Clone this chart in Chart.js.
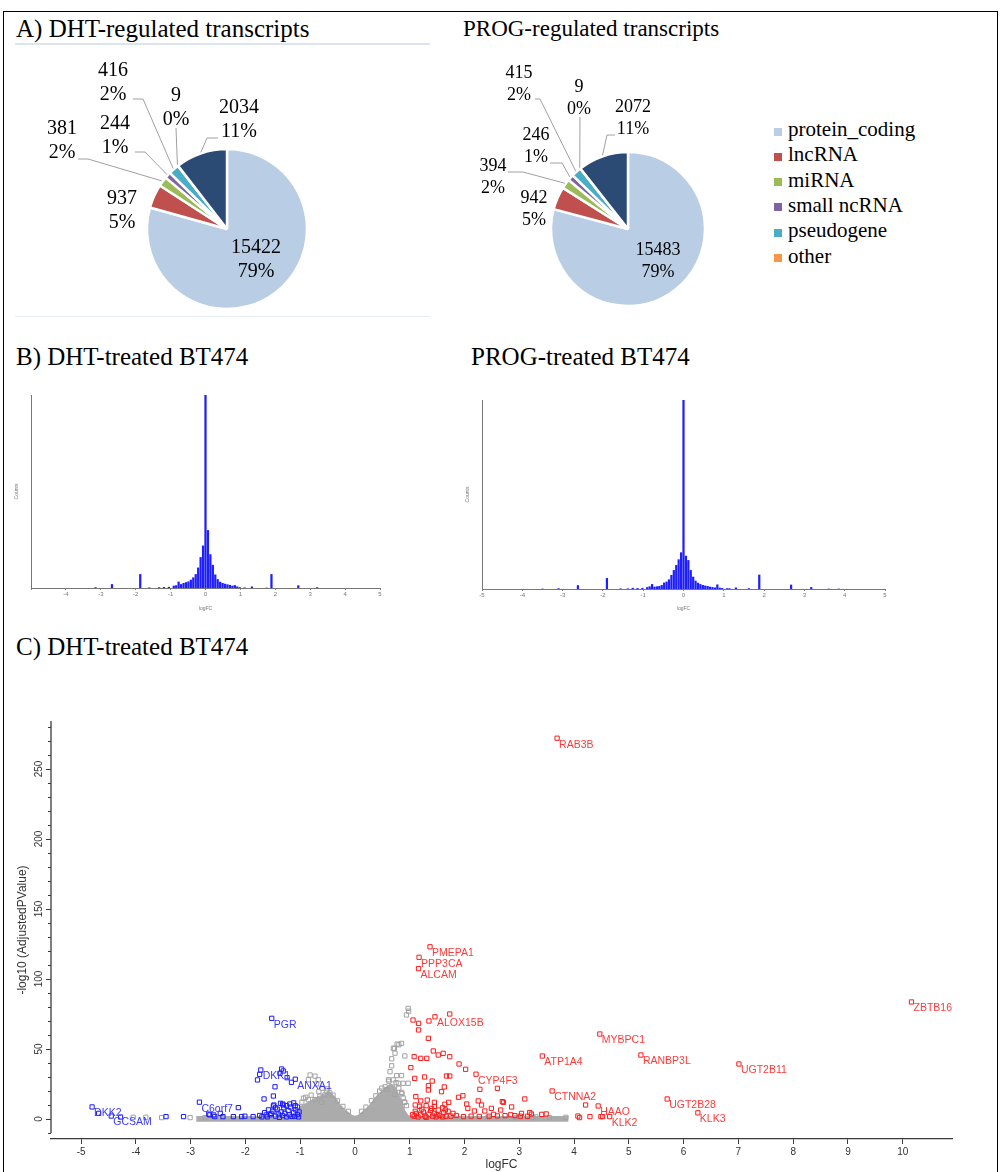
<!DOCTYPE html>
<html>
<head>
<meta charset="utf-8">
<script src="https://cdn.jsdelivr.net/npm/chart.js@4.4.1/dist/chart.umd.min.js"></script>
<style>
  body { margin: 0; background: #fff; }
  #page { position: relative; width: 1001px; height: 1172px; overflow: hidden; font-family: "Liberation Serif", "Times New Roman", serif; color: #000; }
  .frame { position: absolute; left: 3px; top: 11px; width: 995px; height: 1200px; border: 1px solid #000; box-sizing: border-box; }
  .ttl { position: absolute; font-size: 25px; line-height: 25px; white-space: nowrap; }
  .rule { position: absolute; left: 15px; width: 415px; }
  canvas { position: absolute; }
  .lsq { position: absolute; left: 774px; width: 8px; height: 8px; }
  .ltx { position: absolute; left: 788px; font-size: 21px; line-height: 21px; white-space: nowrap; }
</style>
</head>
<body>
<div id="page">
  <div class="frame"></div>
  <div class="ttl" style="left:16px;top:16px">A) DHT-regulated transcripts</div>
  <div class="rule" style="top:43px;height:2px;background:#dbe5f1"></div>
  <div class="ttl" style="left:463px;top:17px;font-size:23px;line-height:23px">PROG-regulated transcripts</div>
  <div class="rule" style="top:316px;height:1px;background:#e6edf5"></div>
  <canvas id="pieDht" width="420" height="268" style="left:20px;top:50px"></canvas>
  <canvas id="pieProg" width="330" height="268" style="left:440px;top:50px"></canvas>
  <div id="legend"></div>
  <div class="ttl" style="left:16px;top:344px">B) DHT-treated BT474</div>
  <div class="ttl" style="left:471px;top:344px">PROG-treated BT474</div>
  <canvas id="histDht" width="400" height="232" style="left:0px;top:380px"></canvas>
  <canvas id="histProg" width="460" height="227" style="left:440px;top:385px"></canvas>
  <div class="ttl" style="left:16px;top:634px">C) DHT-treated BT474</div>
  <canvas id="volcano" width="1000" height="472" style="left:0px;top:700px"></canvas>
</div>
<script>
// ---- A) transcript biotypes ----
const biotypes = ['protein_coding', 'lncRNA', 'miRNA', 'small ncRNA', 'pseudogene', 'other', ''];
const biotypeColors = ['#b9cde5', '#c0504d', '#9bbb59', '#8064a2', '#4bacc6', '#f79646', '#2b4b74'];
const dhtCounts = [15422, 937, 381, 244, 416, 9, 2034];
const dhtPct = ['79%', '5%', '2%', '1%', '2%', '0%', '11%'];
const progCounts = [15483, 942, 394, 246, 415, 9, 2072];
const progPct = ['79%', '5%', '2%', '1%', '2%', '0%', '11%'];

// ---- B) logFC histograms ----
const dhtBins = [-3.15, -2.68, -1.87, -1.61, -1.33, -1.19, -1.05,
  -0.91, -0.84, -0.77, -0.70, -0.63, -0.56, -0.49, -0.42, -0.35, -0.28, -0.21, -0.14, -0.07,
  0,
  0.07, 0.14, 0.21, 0.28, 0.35, 0.42, 0.49, 0.56, 0.63, 0.70, 0.77, 0.84, 0.91, 0.98,
  1.12, 1.33, 1.75, 1.89, 2.66, 3.2];
const dhtHist = [4, 20, 72, 3, 4, 5, 6,
  12, 14, 33, 20, 26, 30, 34, 43, 55, 72, 106, 160, 220,
  1000,
  300, 175, 120, 70, 46, 32, 26, 22, 19, 16, 12, 15, 8, 4,
  3, 8, 2, 72, 14, 4];
const progBins = [-3.5, -3.1, -2.62, -1.9, -1.56, -1.38, -1.26, -1.14, -1.02,
  -0.9, -0.84, -0.78, -0.72, -0.66, -0.6, -0.54, -0.48, -0.42, -0.36, -0.3, -0.24, -0.18, -0.12, -0.06,
  0,
  0.06, 0.12, 0.18, 0.24, 0.3, 0.36, 0.42, 0.48, 0.54, 0.6, 0.66, 0.72, 0.78, 0.84, 0.9, 0.96,
  1.08, 1.14, 1.3, 1.62, 1.88, 2.67, 3.17, 3.6, 3.85];
const progHist = [2, 4, 20, 58, 3, 3, 6, 5, 6,
  10, 14, 26, 12, 14, 16, 21, 34, 39, 51, 74, 100, 127, 157, 194,
  1000,
  176, 153, 100, 65, 44, 33, 26, 21, 18, 16, 12, 10, 8, 24, 7, 5,
  4, 4, 8, 4, 76, 23, 10, 2, 2];

// ---- C) volcano plot ----
const upGenes = ['RAB3B', 'PMEPA1', 'PPP3CA', 'ALCAM', 'ZBTB16', 'ALOX15B', 'MYBPC1', 'RANBP3L',
  'ATP1A4', 'UGT2B11', 'CYP4F3', 'CTNNA2', 'UGT2B28', 'HAAO', 'KLK3', 'KLK2'];
const upFC = [3.69, 1.37, 1.17, 1.16, 10.16, 1.46, 4.47, 5.22, 3.42, 7.01, 2.21, 3.6, 5.7, 4.44, 6.26, 4.65];
const upP = [272, 123, 115.5, 107.4, 83.6, 73, 60.7, 45.7, 45, 39.3, 32, 20, 14.3, 9.3, 4.4, 1.7];
const downGenes = ['PGR', 'DKK1', 'ANXA1', 'C6orf7', 'DKK2', 'GCSAM'];
const downFC = [-1.52, -1.72, -1.09, -2.84, -4.8, -4.45];
const downP = [71.9, 35, 28.4, 12, 8.6, 2.1];

const upOther = [[1.73,75],[1.35,70],[1.06,70.7],[1.16,68.3],[1.16,63.6],[1.34,57.6],[1.43,48.6],[1.52,45.7],
  [1.61,46.9],[1.73,44.5],[1.08,44.5],[1.2,43.3],[1.31,43.3],[1.9,39.3],[2.02,35.5],[1.02,36.7],[1.09,29],
  [1.27,30],[1.67,30.7],[1.73,30.7],[1.41,27.1],[1.34,23.8],[1.34,20.7],[1.63,22.9],[1.58,19.5],[2.28,21.2],
  [1.97,16.6],[1.89,15.5],[1.11,16],[1.2,12.9],[1.32,13.5],[1.45,11.9],[1.64,10.5],[1.71,11.9],[2.04,10.7],
  [2.25,12.9],[2.31,10],[2.69,12.4],[3.1,14.3],[2.86,8.6],[2.49,7.6],[2.06,7.6],[2.18,5.7],[2.37,5.7],
  [2.66,6.4],[3.04,4],[3.19,4.6],[3.41,3.3],[3.49,3.6],[2.53,3.3],[2.74,2.4],[2.92,2.4],[1.98,1.7],[1.79,4],
  [1.52,6.4],[1.4,7.6],[1.1,10],[1.05,3],[2.6,21.9],[2.71,11.9],[4.07,2.1],[4.1,1],[4.29,1.7],[4.21,10],
  [4.49,1.7],[4.52,1.7],[1.08,2],[1.12,4],[1.15,1.5],[1.2,3],[1.25,5],[1.28,2],[1.3,1.2],[1.35,3.5],[1.38,6],
  [1.42,2],[1.45,4],[1.48,1.5],[1.5,3],[1.55,2.5],[1.6,1.5],[1.62,4.5],[1.66,2],[1.7,5.5],[1.75,2],[1.85,2.5],
  [1.22,7],[1.18,9],[1.6,8],[1.3,9.5],[1.1,5.5],[1.45,9],[1.65,6.5],[2.12,2],[2.27,1.8],[2.45,2],[2.6,2.2],
  [2.84,3],[3.02,2],[3.15,1.9],[3.22,3.5]];
const downOther = [[-1.74,31.9],[-1.78,27.9],[-1.34,35.7],[-1.31,34.3],[-1.37,32.6],[-1.24,29.5],[-1.16,26.2],
  [-1.46,23],[-1.49,16.4],[-1.66,14.3],[-2.13,8.1],[-1.48,10],[-1.31,10],[-1.19,10.7],[-1.09,9.5],[-3.13,1.7],
  [-2.65,2.9],[-2.56,1.7],[-2.41,1.7],[-2.46,4],[-2.22,1.7],[-2.07,1.7],[-2.01,2],[-1.86,1.7],[-1.74,2.5],
  [-1.62,2.9],[-1.53,4],[-3.45,1.7],[-4.28,1.4],[-4.68,4],[-2.58,2.9],[-2.67,3.5],[-1.49,9.3],[-1.32,10.7],
  [-1.6,1.5],[-1.55,3],[-1.5,5.5],[-1.45,2],[-1.42,7],[-1.4,3.5],[-1.38,1.2],[-1.35,5],[-1.32,2.5],[-1.3,8],
  [-1.28,4],[-1.25,1.5],[-1.22,6],[-1.2,3],[-1.18,8.5],[-1.15,1.8],[-1.12,4.5],[-1.1,2],[-1.08,6.5],[-1.05,3.2],
  [-1.03,1.5],[-1.02,5],[-1.45,8],[-1.25,9.5],[-1.65,4.5],[-1.7,1.5],[-1.58,6.5],[-1.12,11.5],[-1.05,8.5],[-1.36,11.2]];
const grayPts = [[0.97,79],[0.98,77],[0.94,74.3],[0.85,54],[0.8,53],[0.72,50.5],[0.73,47],[0.67,43],[0.67,38],
  [0.91,45],[0.64,33.8],[0.76,31],[0.85,31],[0.61,28],[0.79,25.5],[0.88,25.5],[0.97,25.5],[0.49,22],[0.58,21],
  [0.73,17.6],[0.85,19],[0.88,15],[0.91,12],[0.94,9.5],[0.7,50.5],[0.77,53.5],
  [0.3,13],[0.38,16.5],[0.45,20],[0.55,23],[0.62,27],[0.7,28],[0.75,26],[0.8,22],[0.86,18],[0.9,12],[0.2,8.5],
  [-0.82,31.4],[-0.73,30.6],[-0.67,28],[-0.85,28],[-0.94,14.8],[-0.85,13.8],[-0.73,13.8],[-0.64,16.4],
  [-0.55,17.1],[-0.46,18.6],[-0.61,11.9],[-0.7,25],[-0.6,22],[-0.52,20],
  [-0.97,12],[-0.9,15.5],[-0.8,17],[-0.66,19.5],[-0.5,21.5],[-0.4,17],[-0.32,13],[-0.22,9],[-0.12,5.5],[0.12,5.5],
  [-4.05,1.2],[-3.82,1.2],[-3.53,1],[-3.01,1],[-2.74,1],[-2.42,1],[2.43,1.2],[2.95,1],[3.25,1],[3.55,1],[3.85,1.2],[3.3,1.5]];
// upper edge of the dense grey cloud
const grayEnvX = [-2.9, -1.3, -1.02, -1.0, -0.94, -0.85, -0.7, -0.6, -0.46, -0.35, -0.27, -0.15, -0.05, 0,
  0.05, 0.15, 0.27, 0.4, 0.52, 0.64, 0.72, 0.82, 0.91, 0.97, 1.0, 1.05, 3.9];
const grayEnvY = [1.7, 1.7, 2.5, 9, 10, 12, 15.5, 17, 19.5, 15, 10, 5.5, 2.5, 2,
  2.5, 5.5, 10, 16.7, 21, 25, 24, 15.5, 6, 2.5, 2, 1.7, 1.7];
const yTickVals = [0, 50, 100, 150, 200, 250];

// label placement around the pies: [dx, dy, leader points...] relative to the pie centre
const dhtLabelPos = [[29, 31], [-105, -18.5], [-165, -88, -149, -70, -139, -70], [-112, -93.5, -92, -77, -82, -77],
  [-114, -146, -94, -130, -84, -130], [-51, -121.5, -51, -101], [12, -109.5, -9, -91, -20, -91]];
const progLabelPos = [[30, 32.5], [-94, -19.5], [-135, -51.5, -120, -57, -105, -57], [-92, -82.5, -78, -66, -66, -66],
  [-109, -144.5, -93, -130, -88, -130], [-49, -130.5, -48, -112], [5, -110.5, -13, -94, -21, -94]];

Chart.defaults.font.family = '"Liberation Sans", Arial, sans-serif';

function makePieLabels(pos, pct, font, gap) {
  return {
    id: 'pieLabels',
    afterDatasetsDraw(chart) {
      const ctx = chart.ctx;
      const arcs = chart.getDatasetMeta(0).data;
      const values = chart.data.datasets[0].data;
      ctx.save();
      ctx.font = font;
      ctx.fillStyle = '#000';
      ctx.textAlign = 'center';
      ctx.textBaseline = 'middle';
      ctx.strokeStyle = '#a0a0a0';
      ctx.lineWidth = 1;
      arcs.forEach((arc, i) => {
        const p = pos[i];
        const cx = arc.x, cy = arc.y;
        ctx.fillText(String(values[i]), cx + p[0], cy + p[1] - gap / 2);
        ctx.fillText(pct[i], cx + p[0], cy + p[1] + gap / 2);
        if (p.length > 2) {
          const mid = (arc.startAngle + arc.endAngle) / 2;
          const r = arc.outerRadius + 1;
          ctx.beginPath();
          ctx.moveTo(cx + p[2], cy + p[3]);
          for (let k = 4; k < p.length; k += 2) ctx.lineTo(cx + p[k], cy + p[k + 1]);
          ctx.lineTo(cx + Math.cos(mid) * r, cy + Math.sin(mid) * r);
          ctx.stroke();
        }
      });
      ctx.restore();
    }
  };
}

function pieChart(id, counts, pct, pos, radius, pad, font, gap) {
  return new Chart(document.getElementById(id), {
    type: 'pie',
    data: {
      labels: biotypes,
      datasets: [{ data: counts, backgroundColor: biotypeColors, borderColor: '#fff', borderWidth: 2.5 }]
    },
    options: {
      responsive: false,
      animation: false,
      events: [],
      radius: radius,
      layout: { padding: pad },
      plugins: { legend: { display: false }, tooltip: { enabled: false } }
    },
    plugins: [makePieLabels(pos, pct, font, gap)]
  });
}

pieChart('pieDht', dhtCounts, dhtPct, dhtLabelPos, 80, { left: 107, right: 113, top: 99, bottom: 9 }, '20px "Liberation Serif", serif', 24);
pieChart('pieProg', progCounts, progPct, progLabelPos, 77, { left: 108, right: 62, top: 99, bottom: 9 }, '18px "Liberation Serif", serif', 21.5);

const legend = document.getElementById('legend');
biotypes.slice(0, 6).forEach((name, i) => {
  const yc = 131.5 + i * 25.3;
  legend.insertAdjacentHTML('beforeend',
    `<div class="lsq" style="top:${yc - 4}px;background:${biotypeColors[i]}"></div>` +
    `<div class="ltx" style="top:${yc - 12.5}px">${name}</div>`);
});

function histChart(id, bins, counts, yWidth, xHeight, pad, hideFirst, titleOffset) {
  return new Chart(document.getElementById(id), {
    type: 'bar',
    data: {
      datasets: [{
        data: bins.map((b, i) => ({ x: b, y: counts[i] })),
        backgroundColor: '#1e1eff',
        borderWidth: 0,
        barPercentage: 0.92,
        categoryPercentage: 1
      }]
    },
    options: {
      responsive: false,
      animation: false,
      events: [],
      layout: { padding: pad },
      plugins: { legend: { display: false }, tooltip: { enabled: false } },
      scales: {
        x: {
          type: 'linear', min: -5, max: 5, offset: false,
          afterFit: s => { s.height = xHeight; },
          grid: { display: true, drawOnChartArea: false, tickLength: 2, color: '#888', offset: false },
          border: { color: '#777', width: 1 },
          ticks: {
            stepSize: 1, maxRotation: 0, padding: 1, color: '#777', font: { size: 6 },
            callback: v => (hideFirst && v === -5) ? '' : v
          },
          title: { display: true, text: 'logFC', color: '#777', font: { size: 5 }, padding: 0 }
        },
        y: {
          min: 0, max: 1000,
          afterFit: s => { s.width = yWidth; },
          grid: { display: false },
          border: { color: '#777', width: 1 },
          ticks: { display: false },
          title: { display: true, text: 'Counts', color: '#777', font: { size: 5 }, padding: { top: titleOffset, bottom: 0 } }
        }
      }
    }
  });
}

histChart('histDht', dhtBins, dhtHist, 31, 24, { top: 15, right: 20, left: 0, bottom: 0 }, true, 14);
histChart('histProg', progBins, progHist, 42, 23, { top: 15, right: 15, left: 0, bottom: 0 }, false, 25);

const geneLabels = {
  id: 'geneLabels',
  afterDatasetsDraw(chart) {
    const ctx = chart.ctx;
    ctx.save();
    ctx.font = '10.5px "Liberation Sans", Arial, sans-serif';
    ctx.textAlign = 'left';
    ctx.textBaseline = 'middle';
    [[2, downGenes, '#3a3aff'], [3, upGenes, '#ff3a3a']].forEach(([di, names, col]) => {
      const meta = chart.getDatasetMeta(di);
      ctx.fillStyle = col;
      names.forEach((n, i) => {
        const pt = meta.data[i];
        ctx.fillText(n, pt.x + 2, pt.y + 6.5);
      });
    });
    ctx.restore();
  }
};

const volcanoYAxis = {
  id: 'volcanoYAxis',
  afterDraw(chart) {
    const { ctx, chartArea } = chart;
    const ys = chart.scales.y;
    const x0 = chartArea.left;
    ctx.save();
    ctx.strokeStyle = '#3a3a3a';
    ctx.lineWidth = 1.3;
    ctx.beginPath();
    ctx.moveTo(x0, ys.getPixelForValue(-10));
    ctx.lineTo(x0, chartArea.top);
    ctx.stroke();
    ctx.lineWidth = 1;
    for (let v = -10; v <= 280; v += 10) {
      const py = Math.round(ys.getPixelForValue(v)) + 0.5;
      const len = v % 50 === 0 ? 5 : 3;
      ctx.beginPath();
      ctx.moveTo(x0 - len, py);
      ctx.lineTo(x0, py);
      ctx.stroke();
    }
    ctx.fillStyle = '#333';
    ctx.textAlign = 'center';
    ctx.textBaseline = 'middle';
    ctx.font = '10px "Liberation Sans", Arial, sans-serif';
    yTickVals.forEach(v => {
      ctx.save();
      ctx.translate(x0 - 12, ys.getPixelForValue(v));
      ctx.rotate(-Math.PI / 2);
      ctx.fillText(String(v), 0, 0);
      ctx.restore();
    });
    ctx.font = '12px "Liberation Sans", Arial, sans-serif';
    ctx.translate(23, (chartArea.top + chartArea.bottom) / 2);
    ctx.rotate(-Math.PI / 2);
    ctx.fillText('-log10 (AdjustedPValue)', 0, 0);
    ctx.restore();
  }
};

const toPts = (xs, ys) => xs.map((x, i) => ({ x: x, y: ys[i] }));
const pairs = arr => arr.map(p => ({ x: p[0], y: p[1] }));
const square = { pointStyle: 'rect', pointRadius: 3, borderWidth: 1, backgroundColor: 'rgba(0,0,0,0)' };

new Chart(document.getElementById('volcano'), {
  type: 'scatter',
  data: {
    datasets: [
      { type: 'line', data: toPts(grayEnvX, grayEnvY), showLine: true, borderColor: '#ababab', borderWidth: 1,
        backgroundColor: '#ababab', fill: { value: -1.9 }, pointRadius: 0, order: 4 },
      Object.assign({ data: pairs(grayPts), borderColor: '#a2a2a2', order: 3 }, square),
      Object.assign({ data: toPts(downFC, downP).concat(pairs(downOther)), borderColor: '#1a1aff', order: 2 }, square),
      Object.assign({ data: toPts(upFC, upP).concat(pairs(upOther)), borderColor: '#ff1a1a', order: 1 }, square)
    ]
  },
  options: {
    responsive: false,
    animation: false,
    events: [],
    layout: { padding: { top: 21, right: 48, left: 0, bottom: 0 } },
    plugins: { legend: { display: false }, tooltip: { enabled: false } },
    scales: {
      x: {
        type: 'linear', min: -5.55, max: 10.9,
        afterFit: s => { s.height = 33; },
        grid: { display: true, drawOnChartArea: false, tickLength: 5, color: '#3a3a3a' },
        border: { color: '#3a3a3a', width: 1.3 },
        ticks: { stepSize: 1, includeBounds: false, maxRotation: 0, padding: 2, color: '#333', font: { size: 10 } },
        title: { display: true, text: 'logFC', color: '#333', font: { size: 12 }, padding: { top: 0, bottom: 0 } }
      },
      y: {
        min: -14.3, max: 284.3,
        afterFit: s => { s.width = 51; },
        grid: { display: false },
        border: { display: false },
        ticks: { display: false }
      }
    }
  },
  plugins: [geneLabels, volcanoYAxis]
});
</script>
</body>
</html>
